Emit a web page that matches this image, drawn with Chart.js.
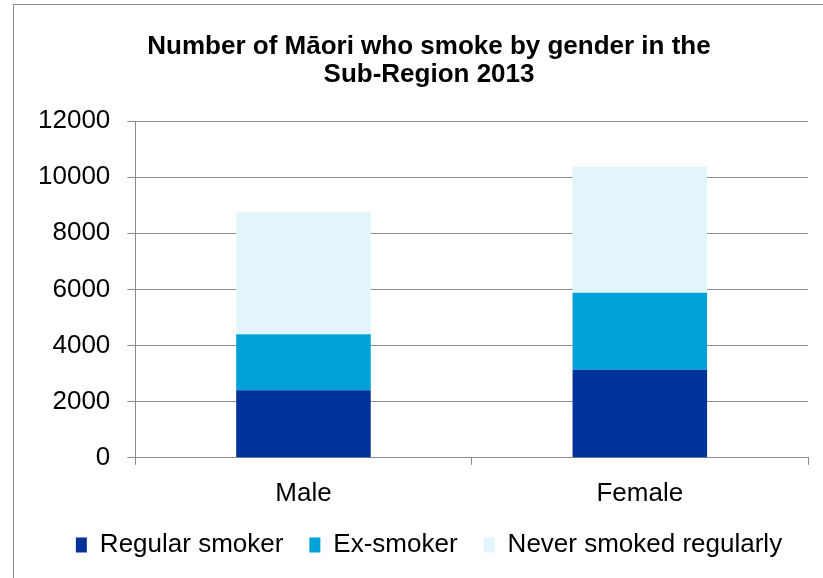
<!DOCTYPE html>
<html>
<head>
<meta charset="utf-8">
<script src="https://cdn.jsdelivr.net/npm/chart.js@4.4.1/dist/chart.umd.min.js"></script>
<style>
  html, body { margin: 0; padding: 0; background: #ffffff; overflow: hidden; width: 823px; height: 578px; }
  #frame { position: absolute; left: 13px; top: 4px; width: 840px; height: 600px; border: 1px solid #8c8c8c; box-sizing: border-box; }
  #wrap { position: absolute; left: 0; top: 0; width: 858px; height: 568px; }
</style>
</head>
<body>
<div id="frame"></div>
<div id="wrap"><canvas id="c"></canvas></div>
<script>
const categories = ["Male", "Female"];
const seriesNames = ["Regular smoker", "Ex-smoker", "Never smoked regularly"];
const regularSmoker = [2410, 3137];
const exSmoker = [1996, 2745];
const neverSmoked = [4339, 4478];
const yTicks = [0, 2000, 4000, 6000, 8000, 10000, 12000];
const colors = ["#003399", "#00A1D9", "#E3F5FC"];

const FONT = "'Liberation Sans', Arial, sans-serif";

// Center title and legend on the full chart frame rather than the padded box
const recenter = {
  id: "recenter",
  afterLayout(chart) {
    [chart.titleBlock, chart.legend].forEach(b => {
      if (!b) return;
      b.left = 0;
      b.right = chart.width;
      b.width = chart.width;
    });
  }
};

new Chart(document.getElementById("c"), {
  type: "bar",
  data: {
    labels: categories,
    datasets: [
      { label: seriesNames[0], data: regularSmoker, backgroundColor: colors[0] },
      { label: seriesNames[1], data: exSmoker, backgroundColor: colors[1] },
      { label: seriesNames[2], data: neverSmoked, backgroundColor: colors[2] }
    ]
  },
  plugins: [recenter],
  options: {
    responsive: true,
    maintainAspectRatio: false,
    animation: false,
    devicePixelRatio: 1,
    layout: { padding: { left: 21, right: 50, top: 0, bottom: 0 } },
    datasets: { bar: { categoryPercentage: 1.0, barPercentage: 0.4 } },
    plugins: {
      title: {
        display: true,
        text: ["Number of M\u0101ori who smoke by gender in the", "Sub-Region 2013"],
        color: "#000000",
        font: { family: FONT, size: 26, weight: "bold", lineHeight: 1.077 },
        padding: { top: 33, bottom: 32 }
      },
      legend: {
        display: true,
        position: "bottom",
        labels: {
          color: "#000000",
          font: { family: FONT, size: 26 },
          boxWidth: 11,
          boxHeight: 15,
          padding: 26
        }
      },
      tooltip: { enabled: false }
    },
    scales: {
      x: {
        stacked: true,
        afterFit: (axis) => { axis.height -= 16; },
        border: { display: true, color: "#8c8c8c", width: 1 },
        grid: { display: true, drawOnChartArea: false, drawTicks: true, tickLength: 7, color: "#8c8c8c", offset: true },
        ticks: { color: "#000000", font: { family: FONT, size: 26 }, padding: 13 }
      },
      y: {
        stacked: true,
        min: 0,
        max: 12000,
        afterBuildTicks: (axis) => { axis.ticks = yTicks.map(v => ({ value: v })); },
        border: { display: true, color: "#8c8c8c", width: 1 },
        grid: { display: true, drawTicks: true, tickLength: 8, color: "#8c8c8c", lineWidth: 1 },
        ticks: { color: "#000000", font: { family: FONT, size: 26 }, padding: 17, callback: (v) => String(v) }
      }
    }
  }
});
</script>
</body>
</html>
